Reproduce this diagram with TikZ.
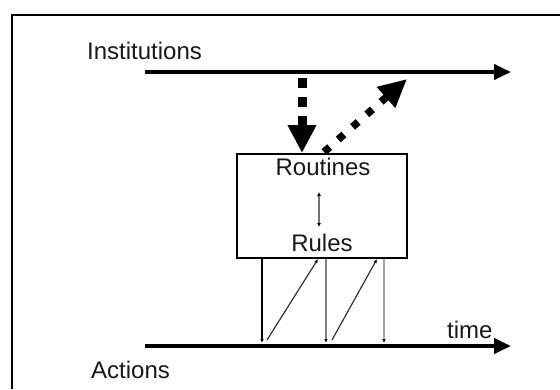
\documentclass[tikz,border=0pt]{standalone}
\usepackage{fontspec}
\setmainfont{Liberation Sans}
\usetikzlibrary{arrows.meta}
\begin{document}
\begin{tikzpicture}[x=1pt,y=-1pt,
  frameline/.style={line width=2.5pt,black},
  mainline/.style={line width=4pt,-{Triangle[length=17pt,width=15pt]}},
  lbl/.style={inner sep=0pt,font=\fontsize{24}{28}\selectfont,text=black!90},
  boxstyle/.style={draw,line width=1.5pt,minimum width=170pt,minimum height=104pt,inner sep=0pt},
  bigdash/.style={line width=9pt,dash pattern=on 10pt off 9pt,-{Triangle[length=28pt,width=27pt]}},
  bigdot/.style={line width=7.5pt,dash pattern=on 7.5pt off 11.5pt,-{Triangle[length=28pt,width=26pt]}},
  thinarr/.style={line width=1.2pt,-{Latex[length=4pt,width=3.5pt,black]}},
  grayarr/.style={thinarr,draw=black!50,line width=1.5pt},
  lightarr/.style={thinarr,draw=black!35,line width=2pt},
  diagarr/.style={thinarr,draw=black!80,line width=1.2pt}
]
\useasboundingbox (0,0) rectangle (560,389);
% frame
\coordinate (fa) at (12,389);
\coordinate (fb) at (12,15);
\coordinate (fc) at (560,15);
\draw[frameline] (fa) -- (fb) -- (fc);
% labels
\node[lbl,anchor=base west] (inst) at (87,59) {Institutions};
\node[lbl,anchor=base west] (act) at (91,378) {Actions};
\node[lbl,anchor=base west] (time) at (447,338) {time};
% main lines
\coordinate (t0) at (145,72);
\coordinate (t1) at (511,72);
\draw[mainline] (t0) -- (t1);
\coordinate (b0) at (145,346);
\coordinate (b1) at (511,346);
\draw[mainline] (b0) -- (b1);
% box
\node[boxstyle] (box) at (322,206) {};
\node[lbl,anchor=base] (rout) at (323,175) {Routines};
\node[lbl,anchor=base] (rules) at (322,251) {Rules};
\coordinate (r0) at (319,192);
\coordinate (r1) at (319,227);
\draw[line width=1.5pt,draw=black!55,{Latex[length=4pt,width=4pt,black]}-{Latex[length=4pt,width=4pt,black]}] (r0) -- (r1);
% dashed down arrow
\coordinate (ds) at (302,78);
\coordinate (de) at (302,153);
\draw[bigdash] (ds) -- (de);
% dotted diagonal arrow
\coordinate (os) at (324,152);
\coordinate (oe) at (407,79);
\draw[bigdot] (os) -- (oe);
% vertical arrows to time line
\coordinate (v1) at (262,343);
\coordinate (v2) at (326,343);
\coordinate (v3) at (384,343);
\draw[thinarr] (v1 |- box.south) -- (v1);
\draw[grayarr] (v2 |- box.south) -- (v2);
\draw[lightarr] (v3 |- box.south) -- (v3);
% diagonal arrows up to box
\coordinate (g1s) at (267,340);
\coordinate (g1e) at (318,259);
\coordinate (g2s) at (332,340);
\coordinate (g2e) at (377,259);
\draw[diagarr] (g1s) -- (g1e);
\draw[diagarr] (g2s) -- (g2e);
\end{tikzpicture}
\end{document}
